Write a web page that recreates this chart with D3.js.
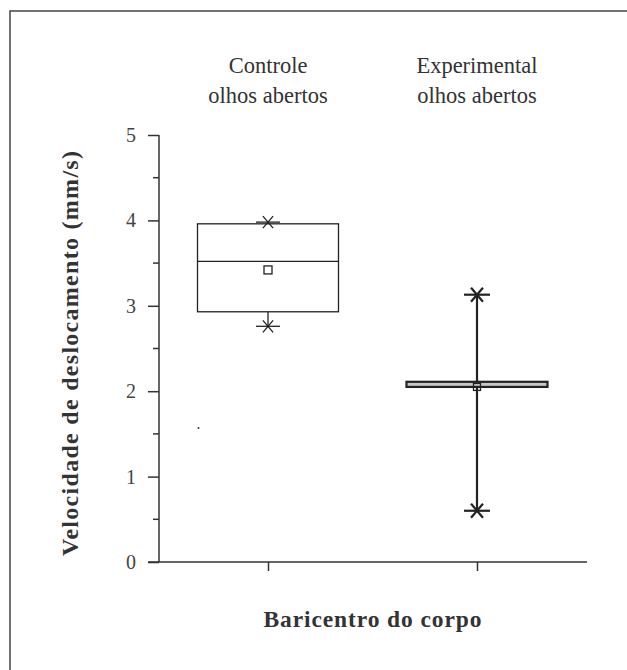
<!DOCTYPE html>
<html><head><meta charset="utf-8">
<script src="https://cdn.jsdelivr.net/npm/d3@7"></script>
<style>body{margin:0;background:#fff}svg{display:block}
.serif{font-family:"Liberation Serif","Times New Roman",serif}</style>
</head><body>
<script>
const categories = ["Controle|olhos abertos", "Experimental|olhos abertos"];
const q1     = [2.93, 2.05];
const median = [3.52, 2.08];
const q3     = [3.96, 2.11];
const mean   = [3.42, 2.05];
const minV   = [2.76, 0.60];
const maxV   = [3.98, 3.13];
const outlierCat = [0];
const outlierVal = [1.57];
const yTicks = [0, 1, 2, 3, 4, 5];
const yMinor = [0.5, 1.5, 2.5, 3.5, 4.5];

const W = 627, H = 670;
const svg = d3.select("body").append("svg").attr("width", W).attr("height", H);
const ink = "#333";

// frame
svg.append("path").attr("d", `M10,${H} L10,11 L${W},11`).attr("fill", "none")
  .attr("stroke", "#444").attr("stroke-width", 1.5);

const y = d3.scaleLinear().domain([0, 5]).range([562, 135]);
const x = d3.scalePoint().domain(categories).range([268, 477]);
const axisX = 159;

// y axis
const gy = svg.append("g").attr("transform", `translate(${axisX},0)`);
gy.call(d3.axisLeft(y).tickValues(yTicks).tickSize(11).tickPadding(12).tickFormat(d3.format("d")));
gy.select(".domain").remove();
gy.append("line").attr("x1", 0).attr("x2", 0).attr("y1", y(5)).attr("y2", y(0)).attr("stroke", ink).attr("stroke-width", 1.5);
gy.selectAll(".tick line").attr("stroke", ink).attr("stroke-width", 1.5);
gy.selectAll(".tick text").attr("class", "serif").attr("font-family", null).attr("font-size", 20).attr("fill", "#444");
gy.attr("font-family", null);
gy.selectAll(".minor").data(yMinor).enter().append("line")
  .attr("x1", -6).attr("x2", 0).attr("y1", d => y(d)).attr("y2", d => y(d))
  .attr("stroke", ink).attr("stroke-width", 1.5);

// x axis
svg.append("line").attr("x1", 148).attr("x2", 587).attr("y1", y(0)).attr("y2", y(0))
  .attr("stroke", ink).attr("stroke-width", 1.5);
const gx = svg.append("g").attr("transform", `translate(0,${y(0)})`);
gx.call(d3.axisBottom(x).tickSize(9).tickFormat(""));
gx.select(".domain").remove();
gx.selectAll(".tick line").attr("stroke", ink).attr("stroke-width", 1.5);

// category labels
categories.forEach((c, i) => {
  const parts = c.split("|");
  const t = svg.append("text").attr("class", "serif").attr("x", x(c)).attr("y", 73).attr("text-anchor", "middle")
    .attr("font-size", 22.5).attr("fill", ink);
  parts.forEach((p, j) => t.append("tspan").attr("x", x(c)).attr("dy", j ? 30 : 0).text(p));
});

const half = 70.5;
function star(g, cx, cy, sw, hw, dh) {
  g.append("line").attr("x1", cx - hw).attr("x2", cx + hw).attr("y1", cy).attr("y2", cy).attr("stroke", "#222").attr("stroke-width", sw);
  g.append("line").attr("x1", cx - dh * 0.85).attr("x2", cx + dh * 0.85).attr("y1", cy - dh).attr("y2", cy + dh).attr("stroke", "#222").attr("stroke-width", sw);
  g.append("line").attr("x1", cx - dh * 0.85).attr("x2", cx + dh * 0.85).attr("y1", cy + dh).attr("y2", cy - dh).attr("stroke", "#222").attr("stroke-width", sw);
}

categories.forEach((c, i) => {
  const g = svg.append("g");
  const cx = x(c);
  const thick = i === 1;
  const sw = thick ? 2.2 : 1.3;
  g.append("line").attr("x1", cx).attr("x2", cx).attr("y1", y(maxV[i])).attr("y2", y(minV[i]))
    .attr("stroke", "#222").attr("stroke-width", sw);
  g.append("rect").attr("x", cx - half).attr("y", y(q3[i])).attr("width", half * 2)
    .attr("height", y(q1[i]) - y(q3[i]))
    .attr("fill", thick ? "#c8c8c8" : "#fff").attr("stroke", "#222").attr("stroke-width", sw);
  if (!thick) {
    g.append("line").attr("x1", cx - half).attr("x2", cx + half).attr("y1", y(median[i])).attr("y2", y(median[i]))
      .attr("stroke", "#222").attr("stroke-width", 1.3);
  }
  const ms = thick ? 7 : 8;
  g.append("rect").attr("x", cx - ms / 2).attr("y", y(mean[i]) - ms / 2).attr("width", ms).attr("height", ms)
    .attr("fill", thick ? "none" : "#fff").attr("stroke", "#222").attr("stroke-width", 1.3);
  if (thick) {
    star(g, cx, y(maxV[i]), 2.2, 13, 7);
    star(g, cx, y(minV[i]), 2.2, 13, 7);
  } else {
    star(g, cx, y(maxV[i]), 1.3, 12, 6);
    star(g, cx, y(minV[i]), 1.3, 12, 6);
  }
});

outlierCat.forEach((ci, k) => {
  svg.append("circle").attr("cx", x(categories[ci]) - half + 1).attr("cy", y(outlierVal[k])).attr("r", 1).attr("fill", "#333");
});

// axis titles
svg.append("text").attr("class", "serif").attr("transform", `translate(78,${(y(0) + y(5)) / 2 + 5}) rotate(-90)`)
  .attr("text-anchor", "middle").attr("font-weight", "bold")
  .attr("font-size", 24).attr("textLength", 405).attr("lengthAdjust", "spacing")
  .attr("fill", ink).text("Velocidade de deslocamento (mm/s)");
svg.append("text").attr("class", "serif").attr("x", (x(categories[0]) + x(categories[1])) / 2).attr("y", 627)
  .attr("text-anchor", "middle").attr("font-weight", "bold")
  .attr("font-size", 23.5).attr("textLength", 218).attr("lengthAdjust", "spacing")
  .attr("fill", ink).text("Baricentro do corpo");
</script>
</body></html>
